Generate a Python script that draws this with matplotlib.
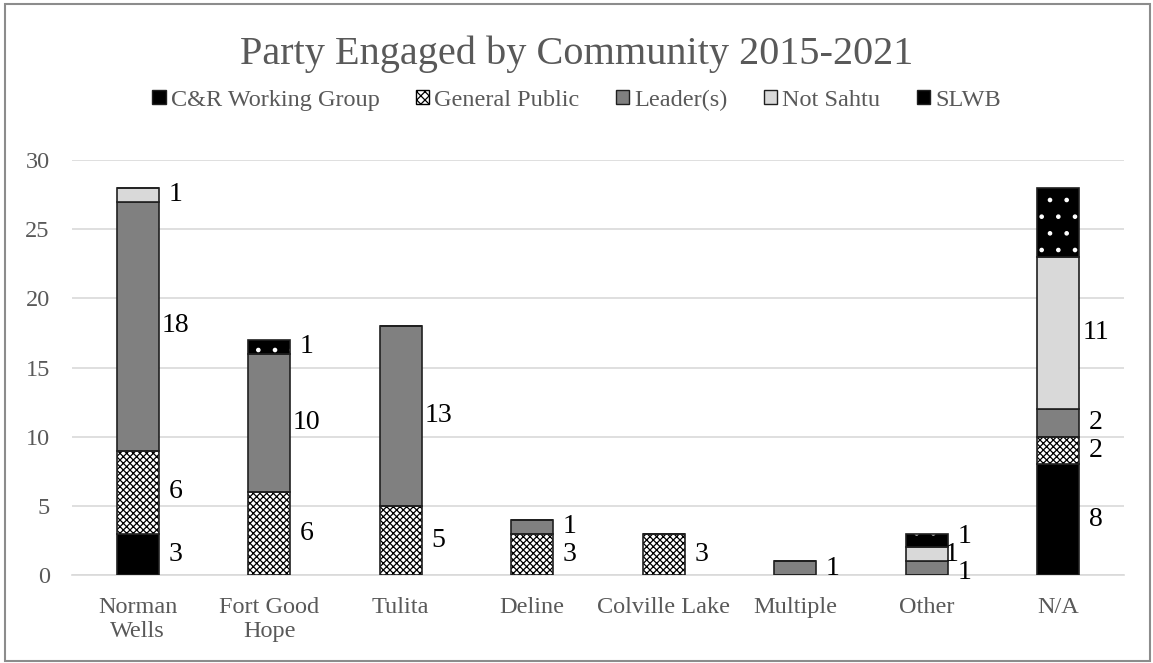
import matplotlib
matplotlib.use("Agg")
import matplotlib.pyplot as plt
from matplotlib.patches import Rectangle, Patch
import numpy as np

plt.rcParams["font.family"] = ["Liberation Serif", "DejaVu Serif"]
plt.rcParams["hatch.linewidth"] = 0.9

communities = ["Norman\nWells", "Fort Good\nHope", "Tulita", "Deline",
               "Colville Lake", "Multiple", "Other", "N/A"]
series_names = ["C&R Working Group", "General Public", "Leader(s)", "Not Sahtu", "SLWB"]
cr_working_group = [3, 0, 0, 0, 0, 0, 0, 8]
general_public = [6, 6, 5, 3, 3, 0, 0, 2]
leaders = [18, 10, 13, 1, 0, 1, 1, 2]
not_sahtu = [1, 0, 0, 0, 0, 0, 1, 11]
slwb = [0, 1, 0, 0, 0, 0, 1, 5]
# SLWB value on N/A bar was not labelled
slwb_labelled = [True, True, True, True, True, True, True, False]
y_ticks = [0, 5, 10, 15, 20, 25, 30]

grey_txt = "#595959"
grid_col = "#d9d9d9"

fig = plt.figure(figsize=(11.53, 6.63), dpi=100)
ax = fig.add_axes([72 / 1153, 1 - 575 / 663, (1124 - 72) / 1153, (575 - 160) / 663])

x = np.arange(len(communities))
w = 0.32
bottom = np.zeros(len(communities))

styles = [
    dict(color="black", hatch=None, hatch_col=None),
    dict(color="white", hatch="xxxxx", hatch_col="black"),
    dict(color="#808080", hatch=None, hatch_col=None),
    dict(color="#d9d9d9", hatch=None, hatch_col=None),
    dict(color="black", hatch=".", hatch_col="white"),
]
all_series = [cr_working_group, general_public, leaders, not_sahtu, slwb]

# small nudges for the crowded labels on the short "Other" bar
nudge = {(6, 2): (0.0, -0.3), (6, 3): (-0.1, 0.0), (6, 4): (0.0, 0.3)}

for k, (vals, st) in enumerate(zip(all_series, styles)):
    vals = np.array(vals, dtype=float)
    if st["hatch"]:
        # fill with the hatch first, then draw the outline on top
        ax.bar(x, vals, w, bottom=bottom, color=st["color"], hatch=st["hatch"],
               edgecolor=st["hatch_col"], linewidth=0, zorder=3)
        ax.bar(x, vals, w, bottom=bottom, color="none",
               edgecolor="#202020", linewidth=1.2, zorder=4)
    else:
        ax.bar(x, vals, w, bottom=bottom, color=st["color"],
               edgecolor="#202020", linewidth=1.2, zorder=3)
    for i, v in enumerate(vals):
        if v <= 0:
            continue
        if k == 4 and not slwb_labelled[i]:
            continue
        dx, dy = nudge.get((i, k), (0.0, 0.0))
        ax.text(x[i] + w / 2 + 0.125 + dx, bottom[i] + v / 2 + dy, f"{int(v)}",
                ha="center", va="center", fontsize=20, color="black", zorder=5)
    bottom += vals

ax.set_xlim(-0.5, len(communities) - 0.5)
ax.set_ylim(0, 30)
ax.set_yticks(y_ticks)
ax.set_xticks(x)
ax.set_xticklabels(communities, multialignment="center", linespacing=1.15)
ax.tick_params(axis="both", length=0, labelsize=17.5, colors=grey_txt)
ax.tick_params(axis="y", pad=16)
ax.tick_params(axis="x", pad=16)
ax.yaxis.grid(True, color=grid_col, linewidth=1.2, zorder=0)
ax.set_axisbelow(True)
for s in ["top", "right", "left"]:
    ax.spines[s].set_visible(False)
ax.spines["bottom"].set_color(grid_col)
ax.spines["bottom"].set_linewidth(1.2)

fig.text(0.5, 1 - 54 / 663, "Party Engaged by Community 2015-2021",
         ha="center", va="center", fontsize=29, color=grey_txt)

handles = []
for name, st in zip(series_names, styles):
    if st["hatch"] == "xxxxx":
        handles.append(Patch(facecolor="white", edgecolor="black", hatch="xxxx", label=name))
    else:
        handles.append(Patch(facecolor=st["color"], edgecolor="#202020", label=name))
leg = fig.legend(handles=handles, loc="center", bbox_to_anchor=(0.5, 1 - 100 / 663),
                 ncol=5, frameon=False, fontsize=17.5, handlelength=0.55,
                 handleheight=0.55, handletextpad=0.2, columnspacing=1.5)
for t in leg.get_texts():
    t.set_color(grey_txt)

# outer chart border
fig.patches.append(Rectangle((5 / 1153, 2 / 663), 1145 / 1153, 657 / 663,
                             transform=fig.transFigure, fill=False,
                             edgecolor="#8c8c8c", linewidth=1.5))

fig.savefig("out.png", dpi=100)
